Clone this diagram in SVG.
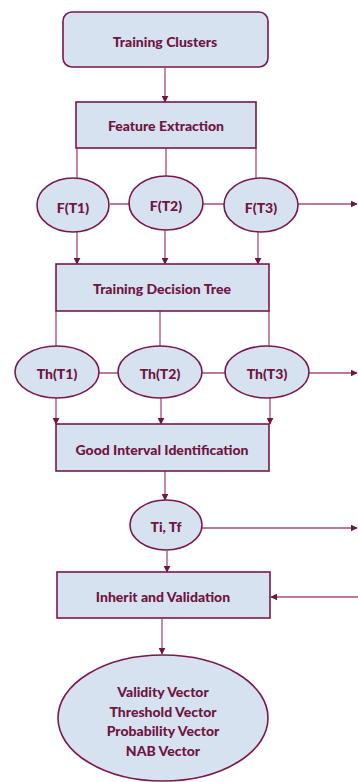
<svg xmlns="http://www.w3.org/2000/svg" width="358" height="782" viewBox="0 0 358 782">
<style>
.n{fill:#d7e2f1;stroke:#7a1848;stroke-width:1.6}
.t{font-family:Lato,"Open Sans","Liberation Sans",sans-serif;font-weight:900;font-size:14px;fill:#6e1540;text-anchor:middle;dominant-baseline:central}
.c{fill:none;stroke:#a34d78;stroke-width:1.3}
.ar{marker-end:url(#a)}
</style>
<defs>
<marker id="a" viewBox="0 0 10 10" refX="9" refY="5" markerWidth="7" markerHeight="7" markerUnits="userSpaceOnUse" orient="auto"><path d="M0,0L10,5L0,10z" fill="#6e1540"/></marker>
</defs>
<rect width="358" height="782" fill="#fff"/>
<g id="connectors">
<path class="c ar" d="M165,68V102"/>
<path class="c" d="M77,148V178M166,148V176M256,148V178"/>
<path class="c" d="M110,204H130M203,204H225"/>
<path class="c ar" d="M298,204H357"/>
<path class="c ar" d="M77,232V264"/>
<path class="c ar" d="M165,230V264"/>
<path class="c ar" d="M258,232V264"/>
<path class="c" d="M56,311V347M160,311V346M269,311V347"/>
<path class="c" d="M99,373H119M202,373H225"/>
<path class="c ar" d="M309,373H357"/>
<path class="c ar" d="M56,398V424"/>
<path class="c ar" d="M161,398V424"/>
<path class="c ar" d="M270,398V424"/>
<path class="c ar" d="M165,471V500"/>
<path class="c ar" d="M202,528H357"/>
<path class="c ar" d="M167,551V572"/>
<path class="c ar" d="M358,597H271"/>
<path class="c ar" d="M162,619V654"/>
</g>
<g id="training-clusters"><rect class="n" x="63" y="12" width="205" height="55" rx="9"/><text class="t" x="165" y="41">Training Clusters</text></g>
<g id="feature-extraction"><rect class="n" x="76" y="102" width="180" height="46"/><text class="t" x="166" y="125">Feature Extraction</text></g>
<g id="ft1"><ellipse class="n" cx="73" cy="205" rx="36" ry="27"/><text class="t" x="73" y="207">F(T1)</text></g>
<g id="ft2"><ellipse class="n" cx="166" cy="203" rx="37" ry="27"/><text class="t" x="166" y="205">F(T2)</text></g>
<g id="ft3"><ellipse class="n" cx="261" cy="205" rx="37" ry="27"/><text class="t" x="261" y="207">F(T3)</text></g>
<g id="training-decision-tree"><rect class="n" x="56" y="264" width="213" height="47"/><text class="t" x="162" y="288">Training Decision Tree</text></g>
<g id="tht1"><ellipse class="n" cx="57" cy="372" rx="42" ry="26"/><text class="t" x="57" y="373">Th(T1)</text></g>
<g id="tht2"><ellipse class="n" cx="160" cy="372" rx="42" ry="26"/><text class="t" x="160" y="373">Th(T2)</text></g>
<g id="tht3"><ellipse class="n" cx="267" cy="372" rx="42" ry="26"/><text class="t" x="267" y="373">Th(T3)</text></g>
<g id="good-interval"><rect class="n" x="56" y="424" width="213" height="47"/><text class="t" x="162" y="449">Good Interval Identification</text></g>
<g id="titf"><ellipse class="n" cx="166" cy="525" rx="36" ry="25"/><text class="t" x="166" y="526">Ti, Tf</text></g>
<g id="inherit-validation"><rect class="n" x="57" y="572" width="213" height="46"/><text class="t" x="163" y="596">Inherit and Validation</text></g>
<g id="vectors"><ellipse class="n" cx="163" cy="718" rx="105" ry="63"/>
<text class="t" x="163" y="691">Validity Vector</text>
<text class="t" x="163" y="711">Threshold Vector</text>
<text class="t" x="163" y="730">Probability Vector</text>
<text class="t" x="163" y="750">NAB Vector</text></g>
</svg>
